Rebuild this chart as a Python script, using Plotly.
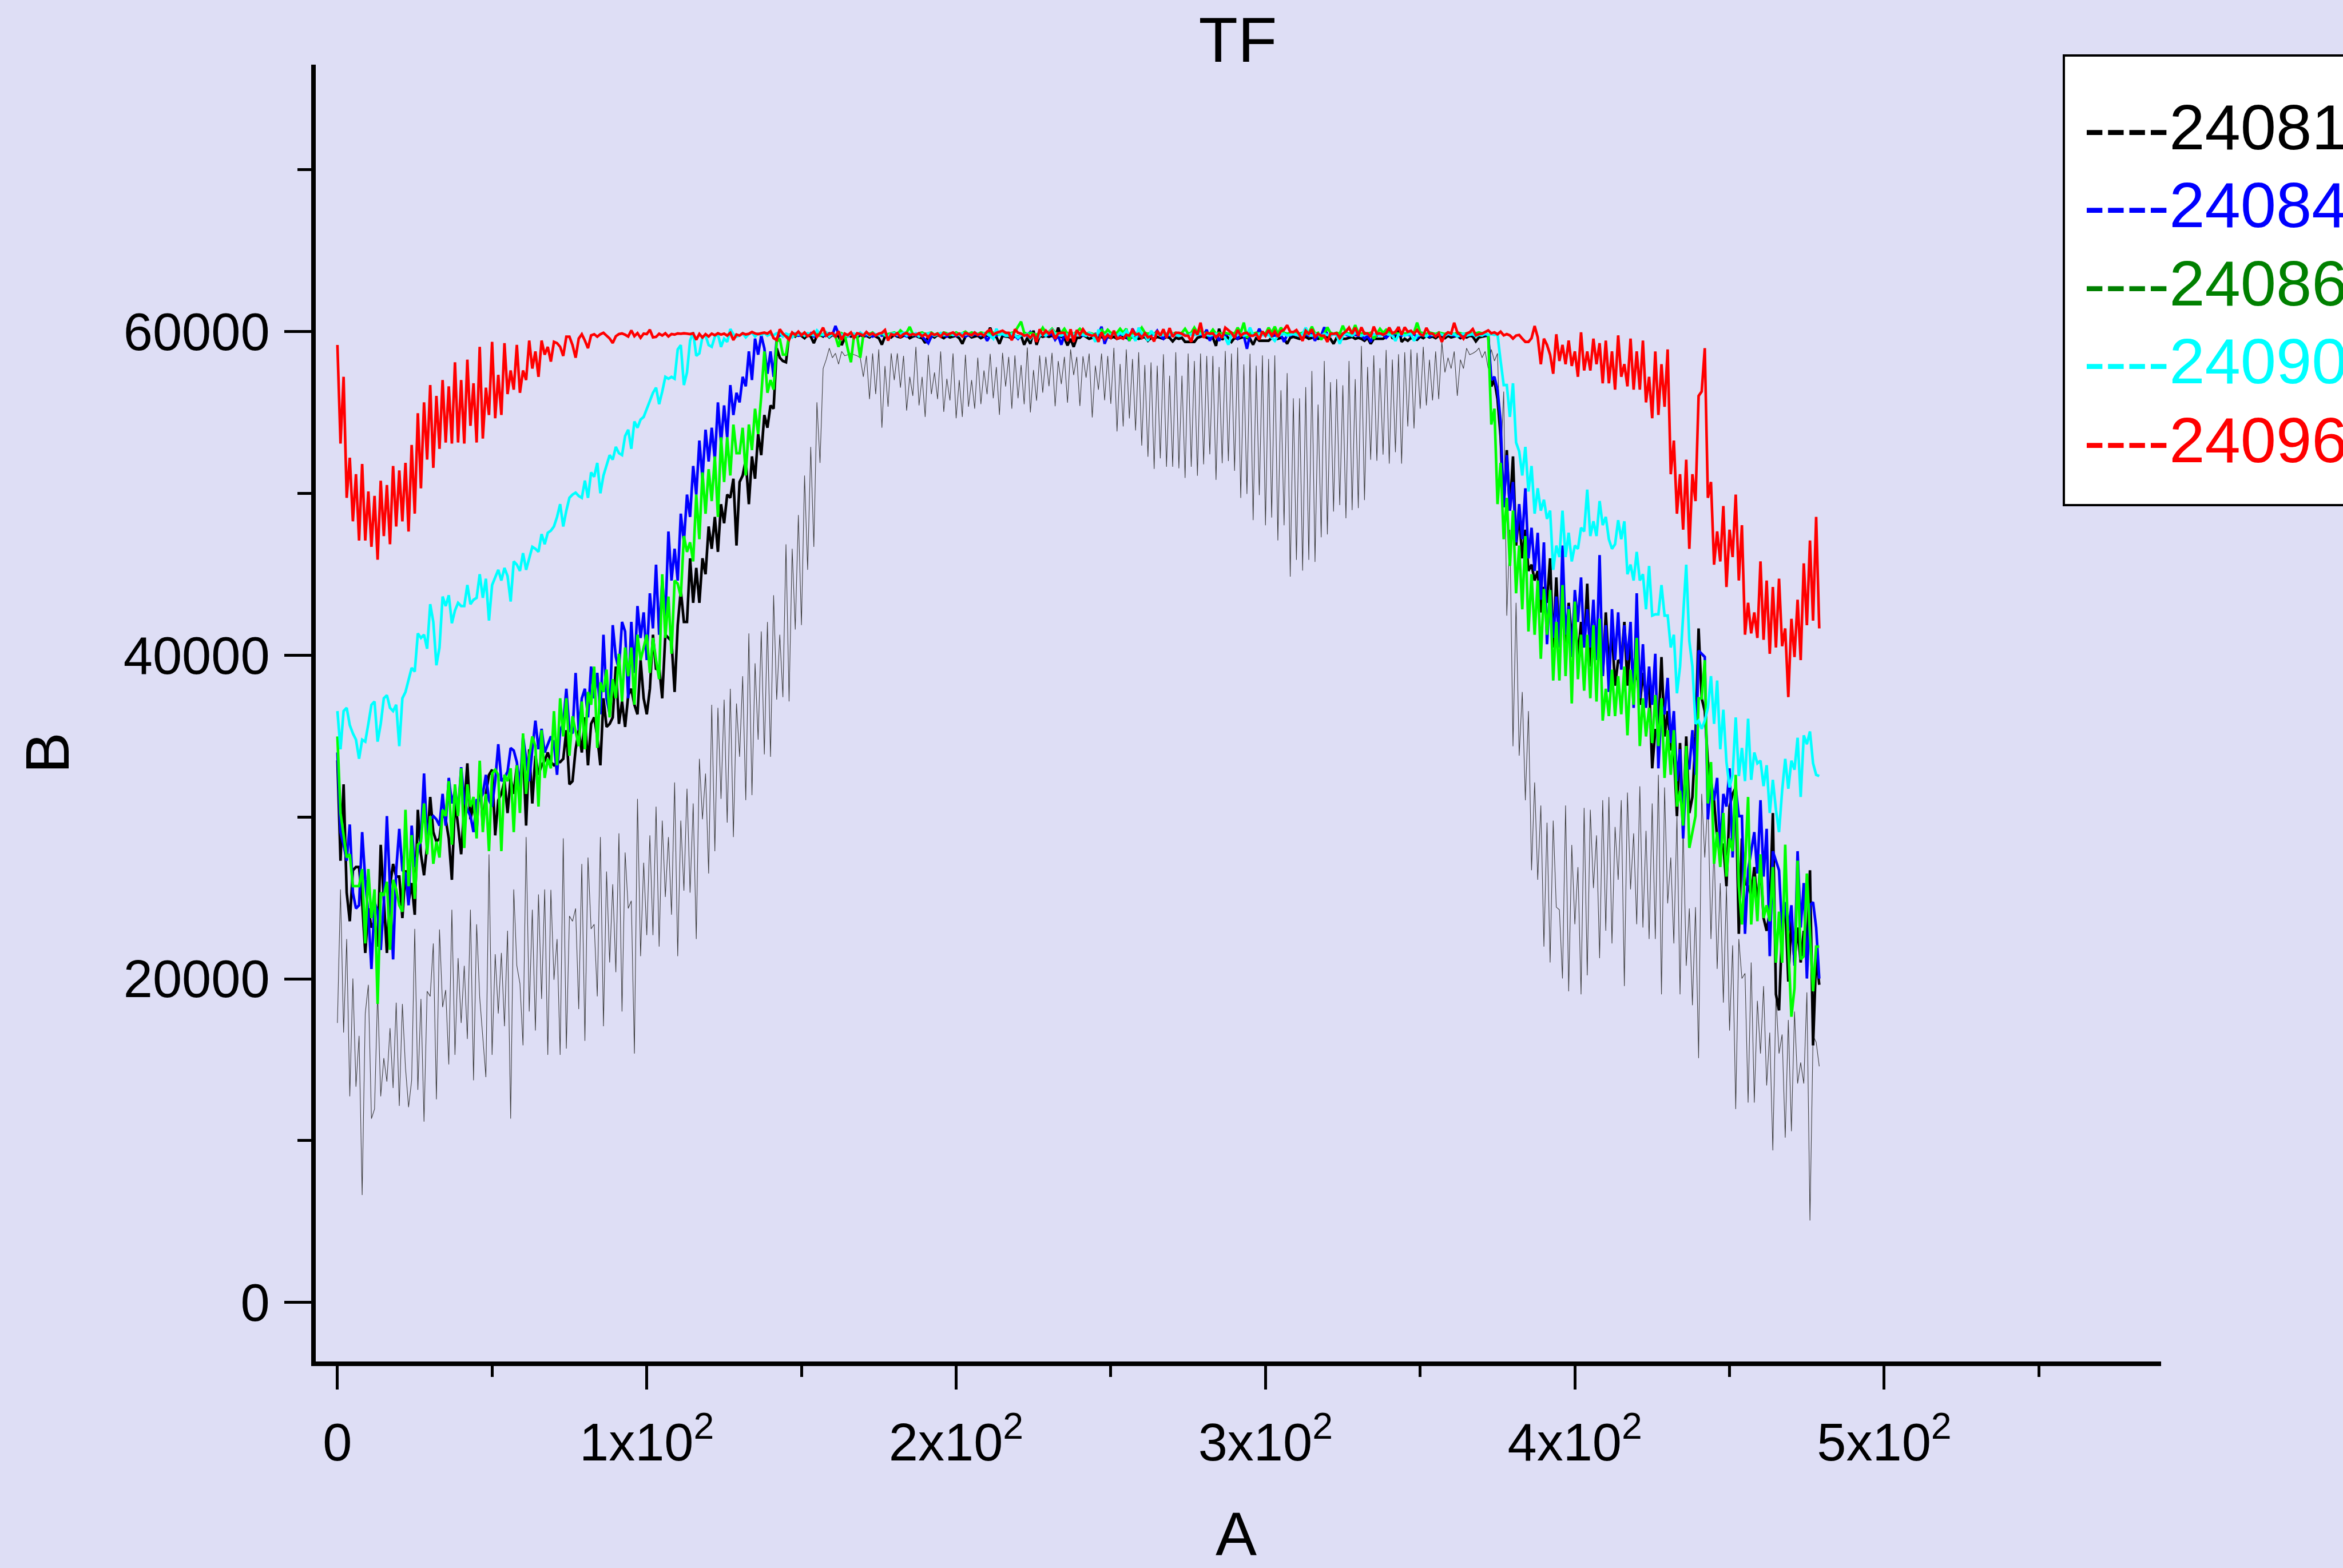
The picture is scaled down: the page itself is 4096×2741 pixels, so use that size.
import plotly.graph_objects as go

# ---------------------------------------------------------------- data
sample = list(range(480))  # A (sample index)

LEGEND_LABELS = ["----24081", "----24084", "----24086", "----24090", "----24096"]

b_24081 = [
    33500, 27300, 32020, 25330, 23560, 26710, 26910, 26910, 24740, 21600,
    24350, 23170, 23560, 21990, 28280, 25140, 21600, 25730, 27100, 26320,
    26320, 23760, 26710, 24740, 25920, 23960, 30450, 27700, 26400, 28280,
    31240, 29070, 28480, 28680, 30250, 29860, 28680, 26120, 31040, 29470,
    27700, 30570, 33320, 29860, 30840, 29070, 32610, 29470, 31430, 32610,
    32930, 28870, 31040, 31430, 32220, 30250, 32420, 31430, 33200, 31830,
    34190, 29470, 34190, 30840, 33790, 32610, 33200, 33480, 33990, 33400,
    33200, 33400, 33400, 33600, 35370, 32020, 32220, 34190, 35370, 33990,
    36160, 33200, 35760, 36160, 34980, 33200, 37340, 35570, 35760, 36160,
    39300, 35760, 37140, 35570, 37530, 37930, 36940, 36350, 39700, 37340,
    36350, 37930, 41270, 39110, 39300, 37340, 41270, 41070, 40880, 37730,
    41860, 44030, 42060, 42060, 45990, 43240, 45400, 43240, 45990, 45010,
    47960, 46580, 48550, 46390, 49340, 48160, 49930, 49730, 50910, 46780,
    50710, 51110, 52090, 49340, 52290, 50910, 53670, 52370, 54850, 54060,
    55440, 55240, 58980, 58390, 58190, 58110, 59770, 59850, 59700, 59880,
    59750, 59600, 59800, 59700, 59290, 59750, 59800, 59700, 59850, 59650,
    59800, 59700, 59750, 59170, 59600, 59800, 59700, 59750, 59650, 59800,
    59700, 59750, 59650, 59800, 59700, 59600, 59200, 59700, 59750, 59650,
    59800, 59700, 59650, 59750, 59800, 59600, 59700, 59750, 59650, 59600,
    59300, 59700, 59750, 59650, 59800, 59700, 59600, 59750, 59650, 59700,
    59750, 59600, 59250, 59700, 59800, 59650, 59700, 59750, 59600, 59700,
    59750, 60250, 59700, 59680, 59250, 59750, 59700, 59680, 59560, 59750,
    59680, 59750, 59190, 59620, 59250, 60060, 59190, 59750, 59680, 59750,
    59680, 59750, 59620, 60250, 59680, 59620, 59150, 59560, 59060, 59620,
    59620, 59810, 59680, 59560, 59620, 59680, 59620, 59680, 59560, 59680,
    59620, 59680, 59560, 59620, 59680, 59620, 59560, 59680, 59620, 59560,
    59620, 59680, 59440, 59620, 59560, 59680, 59620, 59560, 59680, 59620,
    59400, 59620, 59560, 59620, 59370, 59370, 59370, 59370, 59620, 59680,
    59750, 59620, 59560, 59620, 59120, 60180, 59500, 59750, 59620, 59370,
    59620, 59560, 59620, 59680, 59620, 59560, 59190, 59620, 59440, 59440,
    59440, 59440, 59620, 60060, 59560, 59620, 59560, 59250, 59620, 59680,
    59620, 59560, 59620, 59680, 59560, 59620, 59680, 59560, 59620, 59680,
    59620, 59560, 59250, 59620, 59680, 59560, 59560, 59620, 59680, 59560,
    59620, 59560, 59440, 59620, 59250, 59560, 59560, 59560, 59560, 59680,
    60180, 59620, 59560, 60300, 59370, 59560, 59440, 59620, 59560, 59500,
    59700, 59600, 59750, 59650, 59700, 59600, 59750, 59700, 59600, 59750,
    59650, 59700, 59750, 59600, 59700, 59650, 59750, 59700, 59400, 59650,
    59700, 59750, 59770, 56620, 57010, 55830, 53500, 49140, 52680, 48940,
    52290, 46780, 48750, 45990, 47760, 45210, 45600, 44620, 45210, 42650,
    44220, 43240, 45990, 40480, 44810, 40680, 43630, 39700, 43240, 41070,
    42450, 39890, 42060, 40480, 44420, 39300, 41860, 40090, 41270, 38710,
    42650, 39300, 41470, 38120, 39700, 39500, 42060, 38120, 41070, 38120,
    39110, 36940, 38910, 37340, 38320, 33010, 35370, 35370, 39890, 34980,
    36550, 34190, 34190, 30060, 34580, 29470, 34980, 30250, 31240, 34980,
    41660, 37340, 36550, 33400, 31830, 31040, 28680, 28290, 28290, 25730,
    30650, 31430, 31830, 22780, 28680, 25920, 25730, 25140, 26910, 24550,
    27100, 23760, 22970, 24150, 30250, 19040, 18050, 23170, 24740, 19830,
    23760, 21010, 23170, 21010, 22970, 21600, 26710, 15890, 21400, 19630,
]

b_24084 = [
    33990, 29070, 28290, 27300, 29540, 25330, 24350, 24550, 29070, 26120,
    23960, 20610, 24740, 24150, 21790, 24740, 30060, 25330, 21200, 26710,
    29270, 26710, 26510, 24550, 29470, 26910, 27890, 28680, 32690, 28680,
    29860, 30060, 29860, 29470, 31430, 29470, 32420, 30840, 31630, 30250,
    33080, 31040, 30450, 30060, 29070, 31040, 31040, 31430, 32610, 31040,
    30650, 32220, 34500, 32220, 32420, 32810, 34270, 34110, 33400, 31830,
    34980, 33600, 32220, 34190, 35960, 34190, 35450, 33990, 34500, 34980,
    34580, 32610, 35370, 35760, 37930, 35370, 35170, 38910, 35370, 37340,
    37930, 36160, 39300, 37340, 38910, 36350, 41270, 37340, 36350, 41860,
    39890, 39110, 42060, 41470, 37340, 42060, 38910, 43040, 41070, 42650,
    39700, 43830, 41660, 45600, 41270, 44620, 42260, 47650, 44620, 46580,
    44620, 48750, 46980, 49930, 48550, 51700, 49930, 53270, 50910, 53940,
    51970, 54060, 52090, 55630, 53080, 55440, 53470, 56700, 54850, 56220,
    55630, 57210, 56620, 58780, 57010, 59570, 58580, 59770, 58980, 57400,
    58780, 57210, 59570, 59800, 59750, 59850, 59700, 59880, 59800, 59750,
    59800, 59850, 59750, 59900, 59700, 59800, 59850, 59750, 59800, 59900,
    59800, 60350, 59850, 59750, 59800, 59700, 59850, 59800, 59750, 59850,
    59800, 59750, 59850, 59700, 59800, 59850, 59750, 59800, 59700, 59850,
    59800, 59750, 59850, 59800, 59700, 59800, 59850, 59750, 59800, 59700,
    59500, 59290, 59700, 59800, 59850, 59750, 59800, 59700, 59850, 59800,
    59750, 59800, 59850, 59700, 59800, 59750, 59850, 59800, 59750, 59850,
    59430, 59750, 59810, 59750, 59870, 59810, 59750, 59870, 59810, 59750,
    59560, 59810, 59870, 59750, 59990, 59810, 59750, 59870, 59810, 59750,
    59810, 59870, 59500, 59750, 59190, 59810, 59870, 59750, 59810, 59870,
    59810, 59750, 59870, 59810, 59750, 59870, 59810, 60310, 59250, 59750,
    59810, 59870, 59750, 59810, 59870, 59750, 59440, 60180, 59810, 59750,
    59870, 59810, 59750, 59870, 59810, 60060, 59750, 59560, 59810, 59750,
    59870, 59810, 59750, 59870, 59810, 59750, 59870, 59810, 59870, 59810,
    59810, 60120, 59440, 59810, 59750, 59440, 59810, 59750, 59870, 59810,
    59750, 59560, 59810, 59750, 58940, 59810, 59870, 59750, 60180, 59810,
    59750, 59870, 59810, 59750, 59870, 59810, 59370, 59810, 59750, 59870,
    59810, 59750, 59870, 59810, 59750, 59870, 59440, 59810, 59750, 60270,
    59810, 59750, 59870, 59810, 59750, 59870, 59810, 59750, 59870, 59810,
    59750, 59810, 59560, 59750, 59370, 59810, 59750, 59870, 59810, 59620,
    59810, 59750, 59870, 59810, 59750, 59870, 59810, 59750, 59870, 59620,
    59800, 59750, 59850, 59700, 59800, 59750, 59850, 59800, 59750, 59850,
    59800, 59750, 59850, 59700, 59800, 59750, 59850, 59800, 59750, 59800,
    59850, 59800, 59790, 57010, 57210, 56420, 54450, 49140, 52370, 48940,
    50710, 46980, 49340, 47170, 50320, 45990, 47880, 45210, 47570, 43430,
    46980, 40680, 44030, 41070, 43630, 40480, 46780, 41270, 43040, 39890,
    44030, 42060, 44810, 40480, 42850, 40480, 43430, 39700, 46190, 38710,
    41860, 37730, 42850, 39700, 42650, 39110, 41860, 39700, 42060, 36750,
    43830, 37340, 40680, 36750, 39300, 36940, 40090, 33010, 36940, 36350,
    38600, 34580, 36550, 32220, 34190, 28680, 33010, 33010, 35370, 32610,
    40290, 40090, 39890, 29860, 32220, 31040, 32420, 27890, 31430, 30650,
    33010, 27500, 31830, 30060, 30060, 22780, 26710, 27890, 29070, 26510,
    31040, 26320, 29270, 21400, 27890, 27300, 26710, 22970, 24740, 22970,
    24550, 20810, 27890, 23170, 25920, 20020, 24550, 24740, 23170, 20020,
]

b_24086 = [
    34980, 30250, 28880, 27500, 27700, 25730, 25730, 25730, 26790, 22190,
    26790, 23760, 25530, 18450, 25330, 25140, 26000, 21790, 26120, 25530,
    24550, 24150, 30450, 25730, 28880, 24940, 28290, 28480, 30840, 27700,
    30060, 27110, 28480, 27500, 30450, 30060, 32220, 28290, 32020, 30060,
    33010, 28090, 32020, 30650, 31240, 28680, 33480, 29070, 31430, 27890,
    32690, 32930, 32610, 27890, 32610, 32220, 33010, 29070, 33200, 30250,
    35170, 31430, 33790, 34980, 34380, 30650, 35370, 32420, 33600, 33010,
    36550, 33200, 37340, 34980, 37340, 33790, 36230, 35370, 34380, 37140,
    34190, 37730, 36940, 39300, 34270, 38320, 37730, 39110, 36160, 38520,
    37340, 40090, 37140, 40480, 38710, 40480, 36940, 41270, 39700, 40480,
    41270, 38910, 41070, 39700, 38520, 45010, 41070, 43630, 40090, 44620,
    44420, 43630, 47370, 46390, 46980, 45800, 49930, 47170, 51300, 48750,
    51500, 49530, 52290, 48550, 53470, 50710, 53470, 51110, 54260, 52490,
    52490, 54060, 51110, 54260, 52680, 55240, 53670, 56030, 58780, 56220,
    57010, 56420, 59370, 59570, 58580, 58580, 59800, 59850, 59750, 59900,
    59850, 59750, 59900, 59800, 59850, 59900, 59750, 59850, 59950, 59800,
    59850, 59700, 59060, 59900, 59800, 58900, 58110, 59800, 59750, 58390,
    59800, 59900, 59850, 59950, 59800, 59850, 59900, 59750, 59850, 59900,
    59950, 59850, 60080, 59900, 59950, 60300, 59850, 59800, 59900, 59950,
    59850, 59900, 59950, 59800, 59900, 59850, 59950, 59900, 59800, 59850,
    59950, 59850, 59900, 60000, 59850, 59950, 59900, 59850, 59950, 59900,
    59900, 59870, 59930, 59870, 59810, 59870, 59930, 59870, 59930, 59990,
    60310, 60620, 59930, 59870, 59930, 59870, 59810, 59930, 60240, 59930,
    59990, 60180, 59930, 59870, 59930, 60180, 59870, 59930, 59870, 59990,
    60180, 59990, 59870, 59930, 59870, 59810, 59930, 60120, 59870, 60120,
    59930, 59870, 59930, 60180, 59930, 60180, 59440, 59930, 59870, 59990,
    60250, 59930, 59870, 59930, 59870, 59930, 59810, 59930, 59870, 59930,
    59870, 59930, 59870, 59930, 60180, 59870, 59930, 60250, 59930, 60060,
    59870, 59930, 59870, 60120, 59870, 59930, 59870, 59930, 59870, 59930,
    59870, 60250, 59930, 60560, 59620, 59930, 59870, 59930, 59870, 59930,
    59870, 60250, 59930, 60310, 59870, 60250, 59930, 59870, 59930, 59870,
    59930, 59870, 59930, 59870, 59930, 60310, 59870, 59930, 59500, 59930,
    60270, 59930, 59870, 59930, 59870, 60370, 59930, 59870, 59930, 60400,
    59930, 59870, 59930, 59870, 59930, 59560, 59870, 60180, 59930, 60120,
    59930, 59870, 59930, 59870, 59930, 59870, 59930, 59870, 59930, 60560,
    59960, 59900, 59850, 59950, 59900, 59850, 59950, 59900, 59850, 59950,
    59900, 59850, 59950, 59900, 59850, 59900, 59950, 59850, 59900, 59950,
    59900, 59950, 59770, 54260, 55240, 49340, 51890, 47170, 49730, 45520,
    48940, 43830, 46780, 42840, 47370, 41470, 45010, 41270, 44620, 39780,
    44100, 41270, 44030, 38440, 42060, 38440, 44340, 38710, 42850, 37020,
    43320, 38520, 41270, 37810, 41270, 37340, 41860, 37140, 42260, 35960,
    37930, 36240, 39110, 36240, 38710, 36350, 39300, 35050, 39110, 36940,
    41070, 34390, 37340, 34980, 36750, 34580, 37540, 34390, 37340, 32420,
    35370, 32610, 35370, 30650, 31630, 29470, 34390, 28090, 29070, 30060,
    37340, 37340, 39700, 30840, 33400, 27110, 29070, 26910, 30250, 26320,
    28680, 27890, 32610, 25730, 23360, 26910, 31240, 23360, 26320, 23560,
    27700, 23760, 24550, 23560, 26910, 21000, 24150, 21000, 28290, 21990,
    17660, 19430, 27300, 21200, 21400, 26510, 22780, 19230, 21990, 21990,
]

b_24090 = [
    36550, 34190, 36550, 36750, 35680, 35170, 34780, 33600, 34780, 34660,
    35760, 36940, 37140, 34660, 35760, 37340, 37530, 36750, 36550, 36940,
    34380, 37340, 37730, 38520, 39220, 38990, 41350, 41070, 41270, 40400,
    43160, 42060, 39380, 40480, 43630, 43040, 43710, 41980, 42770, 43240,
    43040, 43040, 44340, 43160, 43430, 43550, 45010, 43550, 44730, 42140,
    44340, 44810, 45280, 44620, 45400, 44890, 43320, 45800, 45600, 45210,
    46310, 45280, 46070, 46700, 46580, 46390, 47490, 46860, 47570, 47700,
    47960, 48550, 49340, 47960, 48940, 49730, 49930, 50050, 49850, 49730,
    50790, 49730, 51300, 51030, 51890, 50010, 51110, 51700, 52370, 52090,
    52880, 52490, 52370, 53550, 53940, 52760, 54450, 54060, 54570, 54730,
    55240, 55750, 56220, 56540, 55520, 56300, 57210, 57090, 57210, 57090,
    58900, 59170, 56700, 57480, 59450, 59960, 58510, 58660, 59690, 59770,
    59170, 59060, 59690, 59840, 59060, 59570, 59370, 60160, 59840, 59690,
    59770, 59900, 59650, 59850, 59950, 59700, 59880, 59800, 59920, 59750,
    59850, 59780, 59900, 59950, 59700, 59880, 59800, 59650, 59900, 59820,
    59880, 59750, 59900, 59850, 59780, 60080, 59870, 59800, 59950, 59700,
    59880, 59820, 59950, 59780, 59850, 59700, 59900, 59880, 59800, 59950,
    59800, 59880, 59750, 59900, 59850, 59780, 59920, 59800, 59700, 59880,
    59900, 59800, 59850, 59950, 59760, 59880, 59800, 59900, 59700, 59850,
    59820, 59900, 59880, 59750, 59850, 59920, 59780, 59850, 59900, 59800,
    59850, 59780, 59900, 59820, 59880, 59760, 59950, 59850, 59800, 59880,
    59850, 59750, 59560, 60180, 59800, 59870, 59750, 59750, 59870, 59800,
    59620, 59800, 59750, 59870, 59560, 59800, 59500, 59750, 59870, 59750,
    59930, 60120, 59870, 59810, 59750, 59870, 59810, 59750, 59870, 59810,
    59870, 59810, 59750, 59930, 59810, 59370, 60120, 59810, 59750, 59870,
    59810, 59870, 59750, 59930, 59810, 60060, 59810, 59750, 59430, 60250,
    59870, 59810, 59430, 60060, 59810, 59870, 59750, 59810, 59870, 59810,
    59870, 59810, 59750, 59870, 59810, 59750, 59870, 59810, 59810, 59870,
    59870, 59810, 59750, 59810, 59870, 59810, 59750, 59620, 59190, 59810,
    59750, 59810, 59870, 59750, 59810, 60250, 59810, 59750, 59870, 59810,
    59750, 59810, 59620, 59430, 59750, 59810, 59870, 59750, 59810, 59870,
    59810, 59750, 59870, 60250, 59810, 59750, 59870, 59810, 59750, 59870,
    59810, 59750, 59870, 59810, 59250, 59750, 59870, 59810, 59750, 59930,
    59870, 59750, 59810, 59870, 59750, 59810, 59870, 59750, 59810, 59870,
    59810, 59750, 59430, 59810, 59870, 59750, 59810, 59870, 59430, 59750,
    59800, 59850, 59700, 59880, 59800, 59760, 59900, 59820, 59750, 59880,
    59800, 59850, 59700, 59800, 59880, 59760, 59800, 59850, 59700, 59800,
    59760, 59880, 59800, 59850, 59800, 59840, 58190, 56700, 56700, 54730,
    56810, 53150, 52600, 51110, 52880, 50120, 51700, 48750, 50320, 48940,
    49610, 48430, 48940, 45280, 46780, 46070, 48940, 46070, 47570, 45800,
    46780, 46580, 47880, 47650, 50240, 47370, 48280, 47370, 49530, 48040,
    48550, 47170, 46580, 46860, 48350, 47170, 48280, 45010, 45600, 44620,
    46390, 44620, 45010, 42840, 45520, 42450, 42530, 42530, 44340, 42450,
    42450, 40480, 41270, 37650, 39300, 42250, 45600, 40880, 39300, 35760,
    35960, 35450, 35960, 36750, 38710, 35760, 38440, 34190, 36630, 33400,
    31830, 32610, 36160, 32530, 34270, 32220, 36080, 32300, 33990, 33320,
    33480, 31910, 33200, 30250, 32300, 30450, 29070, 31630, 33600, 31750,
    33480, 32930, 34900, 31240, 35050, 34500, 35290, 33320, 32610, 32530,
]

b_24096 = [
    59180, 53080, 57210, 49730, 52210, 48280, 51190, 47090, 51820, 47090,
    50120, 46700, 49850, 45910, 50790, 47370, 50520, 46860, 51700, 47960,
    51420, 48280, 51890, 47650, 53000, 48750, 54960, 50320, 55630, 52090,
    56700, 51580, 56030, 52760, 57010, 53150, 56620, 53080, 58110, 53150,
    57010, 53080, 58270, 54180, 56810, 53150, 59060, 53390, 56540, 54850,
    59370, 54650, 57330, 54850, 59290, 56140, 57600, 56420, 59180, 56220,
    57600, 57010, 59450, 57720, 58780, 57210, 59450, 58580, 59060, 58150,
    59370, 59290, 59060, 58500, 59690, 59690, 59170, 58390, 59570, 59840,
    59450, 58980, 59770, 59840, 59690, 59840, 59930, 59760, 59580, 59300,
    59720, 59850, 59890, 59810, 59700, 60080, 59720, 59910, 59620, 59880,
    59850, 60120, 59650, 59680, 59870, 59760, 59900, 59700, 59850, 59820,
    59890, 59870, 59900, 59880, 59850, 59900, 59500, 59860, 59640, 59850,
    59700, 59880, 59780, 59900, 59820, 59880, 59760, 59930, 59480, 59820,
    59760, 59900, 59830, 59870, 59980, 59890, 59850, 59900, 59940, 59880,
    60020, 59600, 59480, 60150, 59880, 59700, 59500, 59950, 59800, 60000,
    59780, 59950, 59720, 59850, 60000, 59680, 59900, 60250, 59750, 59860,
    59920, 59700, 60030, 59500, 59880, 59780, 59950, 59620, 59900, 59850,
    59750, 59980, 59800, 59900, 59760, 59880, 59920, 60100, 59450, 59850,
    59780, 59900, 59680, 59850, 59920, 59780, 59850, 59800, 59900, 59720,
    59850, 59650, 59900, 59800, 59870, 59700, 59920, 59800, 59860, 59950,
    59780, 59880, 59700, 59920, 59850, 59780, 59950, 59800, 59880, 59750,
    60000, 60120, 59810, 59930, 59990, 60060, 59930, 59930, 59470, 60150,
    59930, 59880, 59750, 59810, 59620, 59870, 59370, 60150, 59810, 60060,
    59870, 60060, 59560, 59900, 59930, 59930, 59430, 60150, 59370, 60100,
    59810, 60150, 59870, 59810, 59750, 59810, 59370, 59970, 59560, 59810,
    59620, 60060, 59560, 59650, 59560, 59810, 59750, 60100, 59810, 59870,
    59620, 59900, 59650, 59720, 59400, 60060, 59750, 60150, 59620, 60220,
    59680, 59930, 59930, 59870, 59750, 59750, 59370, 60120, 59810, 60560,
    59620, 59930, 59870, 59900, 59650, 59870, 59620, 60250, 60100, 59930,
    59620, 60100, 59750, 59900, 59930, 59750, 59750, 59870, 59520, 60020,
    59750, 60100, 59750, 60020, 59680, 60020, 60120, 60400, 59990, 59970,
    60100, 59810, 59430, 60060, 59870, 60150, 59680, 59870, 59750, 59750,
    59370, 59870, 59870, 59900, 59600, 59870, 60020, 60250, 59870, 60250,
    59750, 60270, 59870, 59900, 59680, 60310, 59870, 59900, 59810, 59900,
    60250, 59900, 59990, 60270, 59810, 60270, 59990, 60060, 59870, 60100,
    59840, 59760, 60240, 59880, 59880, 59700, 59900, 59370, 59800, 59960,
    59880, 60550, 59960, 59800, 59560, 59880, 59960, 60160, 59770, 59850,
    59880, 59960, 60080, 59900, 59960, 59840, 60000, 59770, 59850, 59770,
    59570, 59760, 59800, 59570, 59370, 59370, 59600, 60350, 59650, 57990,
    59570, 59180, 58580, 57400, 59840, 58190, 59180, 57990, 59450, 57880,
    58780, 57210, 59960, 57600, 58780, 57600, 59570, 57990, 59290, 56810,
    59450, 56810, 58780, 56420, 59770, 57210, 57990, 56620, 59570, 56420,
    58780, 56420, 59450, 55630, 57210, 54650, 58780, 54850, 57990, 55360,
    58900, 51190, 53270, 48750, 51190, 47760, 52090, 46580, 51190, 49530,
    56030, 56300, 58980, 49730, 50710, 45600, 47650, 45800, 49220, 44220,
    47760, 46070, 49930, 44620, 48040, 41270, 43240, 41350, 42650, 41070,
    45800, 40960, 44620, 40090, 44220, 40480, 44730, 40560, 41660, 37410,
    42250, 39890, 43430, 39700, 45680, 41860, 47090, 42140, 48550, 41660,
]

# unlabelled reference curve (thin grey)
b_reference = [
    17270, 25530, 16680, 22460, 12740, 20020, 13330, 16480, 6640, 17860,
    19630, 11360, 11950, 19230, 12740, 15100, 13650, 16950, 13250, 18530,
    12150, 18450, 14510, 12070, 13730, 23090, 13140, 18760, 11170, 19230,
    18920, 22190, 12550, 23050, 18250, 19310, 14710, 24270, 15300, 21280,
    17270, 20810, 16280, 24270, 13730, 23370, 18840, 16480, 13920, 27690,
    15300, 21520, 17860, 21600, 17070, 22970, 11360, 25530, 20810, 19710,
    15890, 28760, 17980, 24270, 16800, 25220, 18760, 25530, 15300, 25500,
    19940, 22460, 15300, 28680, 15690, 23880, 23560, 24350, 18130, 27100,
    16170, 27500, 23090, 23370, 18920, 28760, 17070, 26630, 21010, 25850,
    20410, 28990, 17980, 27810, 24350, 24820, 15380, 31120, 21400, 27180,
    22700, 28870, 22700, 30650, 21990, 29780, 25060, 28760, 23960, 32140,
    21400, 29780, 25450, 31750, 25330, 30840, 22460, 33600, 29860, 32690,
    26510, 36940, 27890, 36750, 31120, 37260, 29660, 37930, 28760, 37020,
    33720, 38710, 31040, 41350, 31350, 39500, 34780, 41470, 33870, 42060,
    33720, 43710, 37260, 41270, 37410, 46860, 37140, 46580, 41590, 48670,
    41860, 51110, 45280, 52880, 46700, 55630, 51890, 57720, 58270, 58980,
    58390, 58660, 57990, 58780, 58510, 58580, 58660, 58580, 58510, 58390,
    57210, 58510, 55830, 58660, 56140, 58900, 54060, 57880, 55360, 58660,
    57010, 58660, 56540, 58510, 55120, 57210, 56030, 59060, 55440, 57210,
    54730, 58580, 56140, 57480, 55830, 58780, 55040, 57090, 55750, 58660,
    54650, 57010, 54730, 58580, 55360, 57010, 55240, 58390, 55520, 57600,
    56130, 58630, 55880, 57820, 54860, 58690, 56610, 58440, 55240, 58530,
    55880, 57940, 55510, 59020, 55010, 57630, 55730, 58530, 56230, 58440,
    56630, 58690, 55390, 58190, 56760, 58440, 55610, 58900, 57320, 58440,
    55410, 58480, 57160, 58650, 54700, 57900, 56410, 58650, 55760, 58500,
    55540, 59000, 53830, 58000, 54140, 58900, 54640, 58310, 53890, 58730,
    52960, 57940, 52270, 58100, 51520, 57900, 52170, 58600, 51650, 57280,
    51650, 58730, 51550, 57280, 50960, 58650, 51650, 58190, 51090, 58650,
    51800, 58500, 52420, 58500, 50840, 57820, 51870, 58810, 52000, 58650,
    51400, 59020, 49720, 57980, 49970, 58630, 48350, 57900, 49900, 58530,
    48030, 58310, 48510, 58530, 47100, 56380, 48030, 57440, 44860, 55880,
    45890, 55880, 45230, 56570, 45890, 57570, 45770, 55490, 47290, 58190,
    47470, 56880, 48880, 57070, 49280, 56690, 48470, 58190, 48970, 57070,
    49090, 59120, 49590, 57820, 52080, 58530, 52020, 57750, 52400, 58870,
    51840, 58280, 52550, 58600, 51840, 58730, 54140, 58900, 54020, 58690,
    55240, 59060, 55440, 58270, 55750, 58780, 55830, 59370, 57480, 58390,
    57720, 58780, 56030, 58270, 57720, 58980, 58580, 58660, 58780, 58980,
    58390, 58780, 57720, 58900, 58190, 58660, 51890, 56300, 42450, 47760,
    34380, 43240, 33790, 37730, 31040, 36550, 26710, 32140, 26120, 30720,
    21990, 29660, 21010, 29780, 24430, 24270, 20020, 30720, 19230, 28280,
    23370, 26910, 19040, 30570, 20220, 30450, 25610, 28870, 21280, 31040,
    22970, 31240, 22190, 29390, 26120, 31040, 19550, 31510, 25530, 28990,
    23370, 31900, 23170, 29150, 22460, 30840, 22460, 32610, 19040, 31830,
    24660, 27500, 22190, 30060, 19040, 29470, 20810, 24350, 18370, 24430,
    15100, 31430, 27500, 31040, 22460, 28280, 20610, 25920, 18530, 25730,
    16800, 22070, 11950, 22460, 20020, 20340, 12350, 21010, 12350, 18640,
    15380, 19550, 13410, 16680, 9400, 18920, 15380, 16560, 10180, 17460,
    10580, 17980, 13530, 14830, 13530, 19160, 5070, 16480, 16090, 14590,
]

x_tickvals = [0, 100, 200, 300, 400, 500]
x_ticktext = ["0", "1x10<sup>2</sup>", "2x10<sup>2</sup>", "3x10<sup>2</sup>",
              "4x10<sup>2</sup>", "5x10<sup>2</sup>"]
x_minor = [50, 150, 250, 350, 450, 550]
y_tickvals = [0, 20000, 40000, 60000]
y_ticktext = ["0", "20000", "40000", "60000"]
y_minor = [10000, 30000, 50000, 70000]

# ---------------------------------------------------------------- styling
W, H = 4096, 2741
BG = "#DEDEF5"
FONT = "Liberation Sans, Arial, sans-serif"
LINE_COLORS = ["#000000", "#0000FF", "#00FF00", "#00FFFF", "#FF0000"]
LABEL_COLORS = ["#000000", "#0000FF", "#008000", "#00FFFF", "#FF0000"]
SERIES = [b_24081, b_24084, b_24086, b_24090, b_24096]

fig = go.Figure()
fig.add_trace(go.Scatter(x=sample, y=b_reference, mode="lines",
                         line=dict(color="rgb(60,60,60)", width=1.1),
                         showlegend=False, hoverinfo="skip"))
for vals, col, name in zip(SERIES, LINE_COLORS, LEGEND_LABELS):
    fig.add_trace(go.Scatter(x=sample, y=vals, mode="lines", name=name,
                             line=dict(color=col, width=4.6),
                             showlegend=False))

L, R, T, B = 552, 318, 113, 361
fig.update_layout(
    width=W, height=H,
    margin=dict(l=L, r=R, t=T, b=B, pad=0),
    paper_bgcolor=BG, plot_bgcolor=BG,
    font=dict(family=FONT, color="black"),
    showlegend=False,
    title=dict(text="TF", font=dict(size=112, family=FONT, color="black"),
               xref="paper", x=0.4997, xanchor="center",
               yref="container", y=1 - 69 / H, yanchor="middle"),
)

fig.update_xaxes(
    range=[-7.0, 589.5], showgrid=False, zeroline=False,
    showline=True, linecolor="black", linewidth=8,
    ticks="outside", ticklen=41, tickwidth=5, tickcolor="black",
    tickmode="array", tickvals=x_tickvals, ticktext=x_ticktext,
    tickfont=dict(size=92, family=FONT, color="black"),
    ticklabelstandoff=14,
    minor=dict(tickmode="array", tickvals=x_minor, ticks="outside",
               ticklen=19, tickwidth=5, tickcolor="black", showgrid=False),
)
fig.update_yaxes(
    range=[-3650, 76504], showgrid=False, zeroline=False,
    showline=True, linecolor="black", linewidth=8,
    ticks="outside", ticklen=47, tickwidth=5, tickcolor="black",
    tickmode="array", tickvals=y_tickvals, ticktext=y_ticktext,
    tickfont=dict(size=92, family=FONT, color="black"),
    ticklabelstandoff=7,
    minor=dict(tickmode="array", tickvals=y_minor, ticks="outside",
               ticklen=24, tickwidth=5, tickcolor="black", showgrid=False),
)

# axis titles
fig.add_annotation(text="A", xref="paper", yref="paper", x=0.4988, y=-0.1332,
                   xanchor="center", yanchor="middle", showarrow=False,
                   font=dict(size=108, family=FONT, color="black"))
fig.add_annotation(text="B", xref="paper", yref="paper", x=-0.1457, y=0.4693,
                   xanchor="center", yanchor="middle", showarrow=False,
                   textangle=-90,
                   font=dict(size=108, family=FONT, color="black"))

# legend box with coloured entries
fig.add_shape(type="rect", xref="paper", yref="paper",
              x0=0.9473, x1=1.13, y0=0.6603, y1=1.0071,
              fillcolor="white", line=dict(color="black", width=4),
              layer="above")
legend_y = [0.9519, 0.8915, 0.8311, 0.7711, 0.7106]
for lab, col, yy in zip(LEGEND_LABELS, LABEL_COLORS, legend_y):
    fig.add_annotation(text=lab, xref="paper", yref="paper", x=0.9575, y=yy,
                       xanchor="left", yanchor="middle", showarrow=False,
                       font=dict(size=112, family=FONT, color=col))

fig.write_html("out.html")
